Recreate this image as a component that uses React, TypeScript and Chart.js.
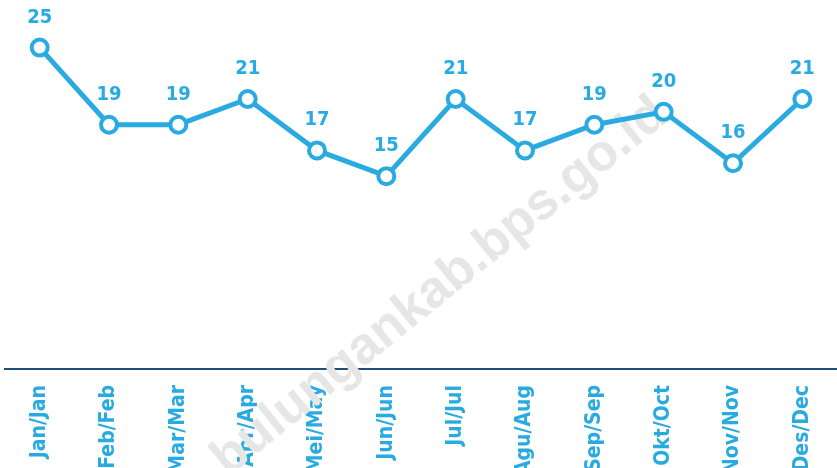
import React, { useEffect, useRef } from "react";
import { Chart, registerables } from "chart.js";

Chart.register(...registerables);

const categories = [
  "Jan/Jan", "Feb/Feb", "Mar/Mar", "Apr/Apr", "Mei/May", "Jun/Jun",
  "Jul/Jul", "Agu/Aug", "Sep/Sep", "Okt/Oct", "Nov/Nov", "Des/Dec",
];
const values = [25, 19, 19, 21, 17, 15, 21, 17, 19, 20, 16, 21];
const watermark = "bulungankab.bps.go.id";

const BLUE = "#29abe2";
const NAVY = "#1f4e79";
const FONT = "'DejaVu Sans Condensed', 'DejaVu Sans', sans-serif";

const watermarkPlugin = {
  id: "watermark",
  beforeDatasetsDraw(chart: any) {
    const ctx = chart.ctx;
    ctx.save();
    ctx.translate(440, 287);
    ctx.rotate((-39 * Math.PI) / 180);
    ctx.font = "bold 52px 'Liberation Sans', Arial, sans-serif";
    ctx.fillStyle = "#e6e6e6";
    ctx.textAlign = "center";
    ctx.textBaseline = "middle";
    ctx.fillText(watermark, 0, 0);
    ctx.restore();
  },
};

const dataLabelPlugin = {
  id: "dataLabels",
  afterDatasetsDraw(chart: any) {
    const ctx = chart.ctx;
    const meta = chart.getDatasetMeta(0);
    ctx.save();
    ctx.font = `bold 20px ${FONT}`;
    ctx.fillStyle = BLUE;
    ctx.textAlign = "center";
    ctx.textBaseline = "alphabetic";
    meta.data.forEach((pt: any, i: number) => {
      ctx.fillText(String(values[i]), pt.x, pt.y - 25);
    });
    ctx.restore();
  },
};

export default function App() {
  const ref = useRef<HTMLCanvasElement>(null);
  useEffect(() => {
    if (!ref.current) return;
    const chart = new Chart(ref.current, {
      type: "line",
      data: {
        labels: categories,
        datasets: [
          {
            data: values,
            borderColor: BLUE,
            borderWidth: 5,
            pointRadius: 8,
            pointBorderWidth: 4,
            pointBackgroundColor: "#ffffff",
            pointBorderColor: BLUE,
            tension: 0,
            clip: false as any,
          },
        ],
      },
      options: {
        animation: false,
        responsive: false,
        layout: { autoPadding: false, padding: { left: 5, right: 0, top: 9, bottom: 0 } },
        plugins: { legend: { display: false }, tooltip: { enabled: false } },
        scales: {
          x: {
            offset: true,
            grid: { display: false, drawTicks: false },
            border: { display: true, color: NAVY, width: 2 },
            ticks: {
              color: BLUE,
              font: { family: FONT, size: 21, weight: "bold" },
              minRotation: 90,
              maxRotation: 90,
              padding: 16,
              autoSkip: false,
            },
            afterFit(scale: any) {
              scale.height = 99;
              scale.paddingLeft = 0;
              scale.paddingRight = 0;
            },
          },
          y: { display: false, min: 0, max: 28 },
        },
      },
      plugins: [watermarkPlugin, dataLabelPlugin],
    });
    return () => chart.destroy();
  }, []);
  return (
    <div style={{ position: "absolute", left: 0, top: 0, width: 837, height: 468 }}>
      <canvas ref={ref} width={837} height={468} style={{ display: "block" }} />
    </div>
  );
}
